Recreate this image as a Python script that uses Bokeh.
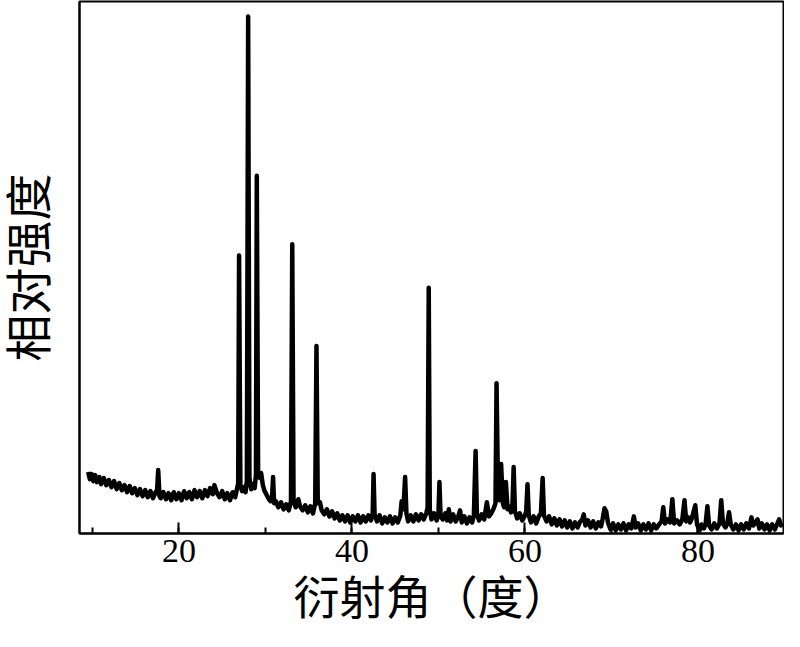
from bokeh.plotting import figure
from bokeh.models import Range1d, SingleIntervalTicker
from bokeh.embed import file_html
from bokeh.resources import INLINE

# X-ray diffraction pattern (2θ in degrees, intensity in arbitrary units)
two_theta = [
    9.5, 9.7, 9.9, 10.1, 10.3, 10.5, 10.8, 11.0, 11.3, 11.6, 11.9, 12.2, 12.5, 12.8, 13.1, 13.4,
    13.7, 14.0, 14.3, 14.6, 14.9, 15.2, 15.5, 15.8, 16.1, 16.4, 16.7, 17.0, 17.3,
    17.45, 17.6, 17.75,
    17.9, 18.2, 18.5, 18.8, 19.1, 19.4, 19.7, 20.0, 20.3, 20.6, 20.9, 21.2, 21.5, 21.8, 22.1,
    22.4, 22.7, 23.0, 23.3, 23.6, 23.9, 24.1, 24.4, 24.7, 25.0, 25.3, 25.6, 25.9, 26.2, 26.5, 26.7,
    26.85, 26.95, 27.1,
    27.3, 27.5, 27.7, 27.85, 28.0, 28.15, 28.35, 28.55, 28.75, 28.9, 29.0, 29.15, 29.35, 29.5,
    29.7, 29.9, 30.1, 30.4, 30.6, 30.75, 30.88, 31.0, 31.2, 31.5, 31.8, 32.1, 32.4, 32.7, 32.95,
    33.1, 33.25, 33.5, 33.8, 34.0, 34.3, 34.6, 34.9, 35.2, 35.5, 35.75, 35.9, 36.05, 36.3, 36.5,
    36.8, 37.1, 37.4, 37.7, 38.0, 38.3, 38.6, 38.9, 39.2, 39.5, 39.8, 40.1, 40.4, 40.7, 41.0,
    41.3, 41.6, 41.9, 42.2, 42.4, 42.5, 42.62, 42.9, 43.2, 43.5, 43.8, 44.1, 44.4, 44.7, 45.0,
    45.3, 45.6, 45.75, 45.95, 46.15, 46.3, 46.5, 46.8, 47.1, 47.4, 47.7, 48.0, 48.3, 48.6, 48.75,
    48.88, 49.0, 49.2, 49.5, 49.8, 50.0, 50.12, 50.25, 50.5, 50.8, 51.0, 51.2, 51.4, 51.7, 52.0,
    52.3, 52.5, 52.7, 53.0, 53.3, 53.6, 53.9, 54.1, 54.3, 54.45, 54.7, 55.0, 55.3, 55.6, 55.85,
    56.1, 56.4, 56.6, 56.72, 56.9, 57.05, 57.25, 57.45, 57.6, 57.8, 58.0, 58.2, 58.4, 58.55, 58.7,
    58.85, 59.1, 59.4, 59.7, 60.0, 60.15, 60.3, 60.45, 60.7, 61.0, 61.3, 61.6, 61.85, 62.05, 62.2,
    62.5, 62.8, 63.1, 63.4, 63.7, 64.0, 64.3, 64.6, 64.9, 65.2, 65.5, 65.8, 66.1, 66.4, 66.6,
    66.8, 67.0, 67.3, 67.6, 67.9, 68.2, 68.5, 68.8, 69.0, 69.2, 69.4, 69.6, 69.9, 70.2, 70.5,
    70.8, 71.1, 71.4, 71.7, 72.0, 72.3, 72.6, 72.8, 73.1, 73.4, 73.7, 74.0, 74.3, 74.6, 74.9,
    75.2, 75.5, 75.8, 76.0, 76.2, 76.5, 76.8, 77.05, 77.25, 77.6, 77.9, 78.2, 78.45, 78.65, 78.9,
    79.1, 79.3, 79.7, 79.9, 80.2, 80.4, 80.7, 80.9, 81.1, 81.3, 81.6, 81.9, 82.2, 82.5, 82.7,
    82.9, 83.2, 83.4, 83.6, 83.8, 84.1, 84.4, 84.7, 85.0, 85.3, 85.6, 85.9, 86.2, 86.4, 86.6,
    86.9, 87.1, 87.4, 87.7, 88.0, 88.3, 88.6, 88.9, 89.2, 89.4, 89.6, 89.8,
]
intensity = [
    61, 54, 59, 52, 58, 51, 56, 49, 55, 48, 53, 46, 52, 44, 50, 43,
    48, 41, 47, 40, 45, 38, 44, 37, 43, 36, 42, 35, 41,
    40, 63, 37,
    35, 41, 34, 40, 33, 41, 34, 40, 33, 42, 35, 41, 34, 43, 36,
    42, 35, 43, 37, 45, 39, 48, 40, 36, 42, 34, 40, 33, 41, 36, 44,
    50, 276, 48,
    42, 46, 41, 52, 513, 55, 44, 49, 45, 58, 355, 62, 55, 60,
    48, 42, 39, 34, 32, 33, 56, 30, 32, 26, 31, 24, 29, 23, 32,
    287, 32, 26, 34, 27, 23, 28, 21, 27, 20, 30, 186, 30, 31, 23,
    19, 24, 17, 22, 15, 20, 13, 18, 12, 18, 11, 17, 12, 18, 11,
    17, 12, 18, 13, 20, 59, 19, 12, 18, 10, 16, 11, 17, 10, 16,
    11, 18, 32, 24, 56, 20, 12, 18, 12, 19, 13, 19, 14, 20, 26,
    244, 24, 14, 20, 13, 19, 51, 17, 14, 20, 13, 24, 12, 19, 12,
    17, 23, 11, 17, 10, 16, 11, 18, 82, 19, 13, 19, 14, 31, 17,
    20, 25, 30, 149, 38, 33, 69, 30, 26, 51, 24, 27, 21, 25, 66,
    22, 15, 20, 13, 18, 22, 49, 18, 11, 17, 10, 17, 20, 55, 18,
    12, 17, 9, 15, 8, 14, 7, 13, 6, 12, 5, 11, 6, 12, 13,
    19, 8, 13, 6, 12, 5, 11, 7, 15, 25, 22, 11, 4, 10, 3,
    9, 4, 10, 3, 9, 5, 17, 6, 10, 3, 9, 4, 10, 3, 9,
    5, 9, 12, 26, 10, 14, 11, 34, 10, 13, 9, 14, 33, 12, 16,
    11, 15, 28, 9, 3, 9, 5, 10, 27, 8, 4, 10, 5, 10, 33,
    10, 6, 10, 21, 9, 4, 9, 3, 9, 4, 10, 5, 16, 8, 10,
    14, 5, 10, 4, 9, 3, 9, 4, 10, 14, 8, 10,
]

x_ticks_major = 20
x_start, x_end = 8.5, 89.9
y_start, y_end = 0, 528

x_title = "衍射角（度）"
y_title = "相对强度"
label_font = "Liberation Serif, Noto Sans CJK SC"

p = figure(
    width=784, height=626,
    output_backend="svg", toolbar_location=None,
    x_range=Range1d(x_start, x_end), y_range=Range1d(y_start, y_end),
    min_border_top=1, min_border_right=1, min_border_left=10, min_border_bottom=0,
)
p.background_fill_color = "white"
p.border_fill_color = "white"
p.grid.visible = False
p.outline_line_color = "black"
p.outline_line_width = 2
p.outline_line_alpha = 1

p.line(two_theta, intensity, line_color="black", line_width=4.5, line_join="round")

xa = p.xaxis[0]
xa.ticker = SingleIntervalTicker(interval=x_ticks_major, num_minor_ticks=2)
xa.axis_line_color = "black"
xa.axis_line_width = 2
xa.major_tick_in = 11
xa.major_tick_out = 0
xa.minor_tick_in = 6
xa.minor_tick_out = 0
xa.major_tick_line_width = 2
xa.minor_tick_line_width = 2
xa.major_tick_line_color = "black"
xa.minor_tick_line_color = "black"
xa.major_label_text_font = "Liberation Serif"
xa.major_label_text_font_size = "34px"
xa.major_label_text_color = "black"
xa.major_label_standoff = 6
xa.axis_label = x_title
xa.axis_label_text_font = label_font
xa.axis_label_text_font_size = "46px"
xa.axis_label_text_font_style = "normal"
xa.axis_label_text_color = "black"
xa.axis_label_standoff = 8

ya = p.yaxis[0]
ya.ticker = []
ya.axis_line_color = "black"
ya.axis_line_width = 2
ya.major_tick_line_color = None
ya.minor_tick_line_color = None
ya.major_label_text_font_size = "0px"
ya.axis_label = y_title
ya.axis_label_text_font = label_font
ya.axis_label_text_font_size = "47px"
ya.axis_label_text_font_style = "normal"
ya.axis_label_text_color = "black"
ya.axis_label_standoff = 24

open("out.html", "w").write(file_html(p, INLINE))
